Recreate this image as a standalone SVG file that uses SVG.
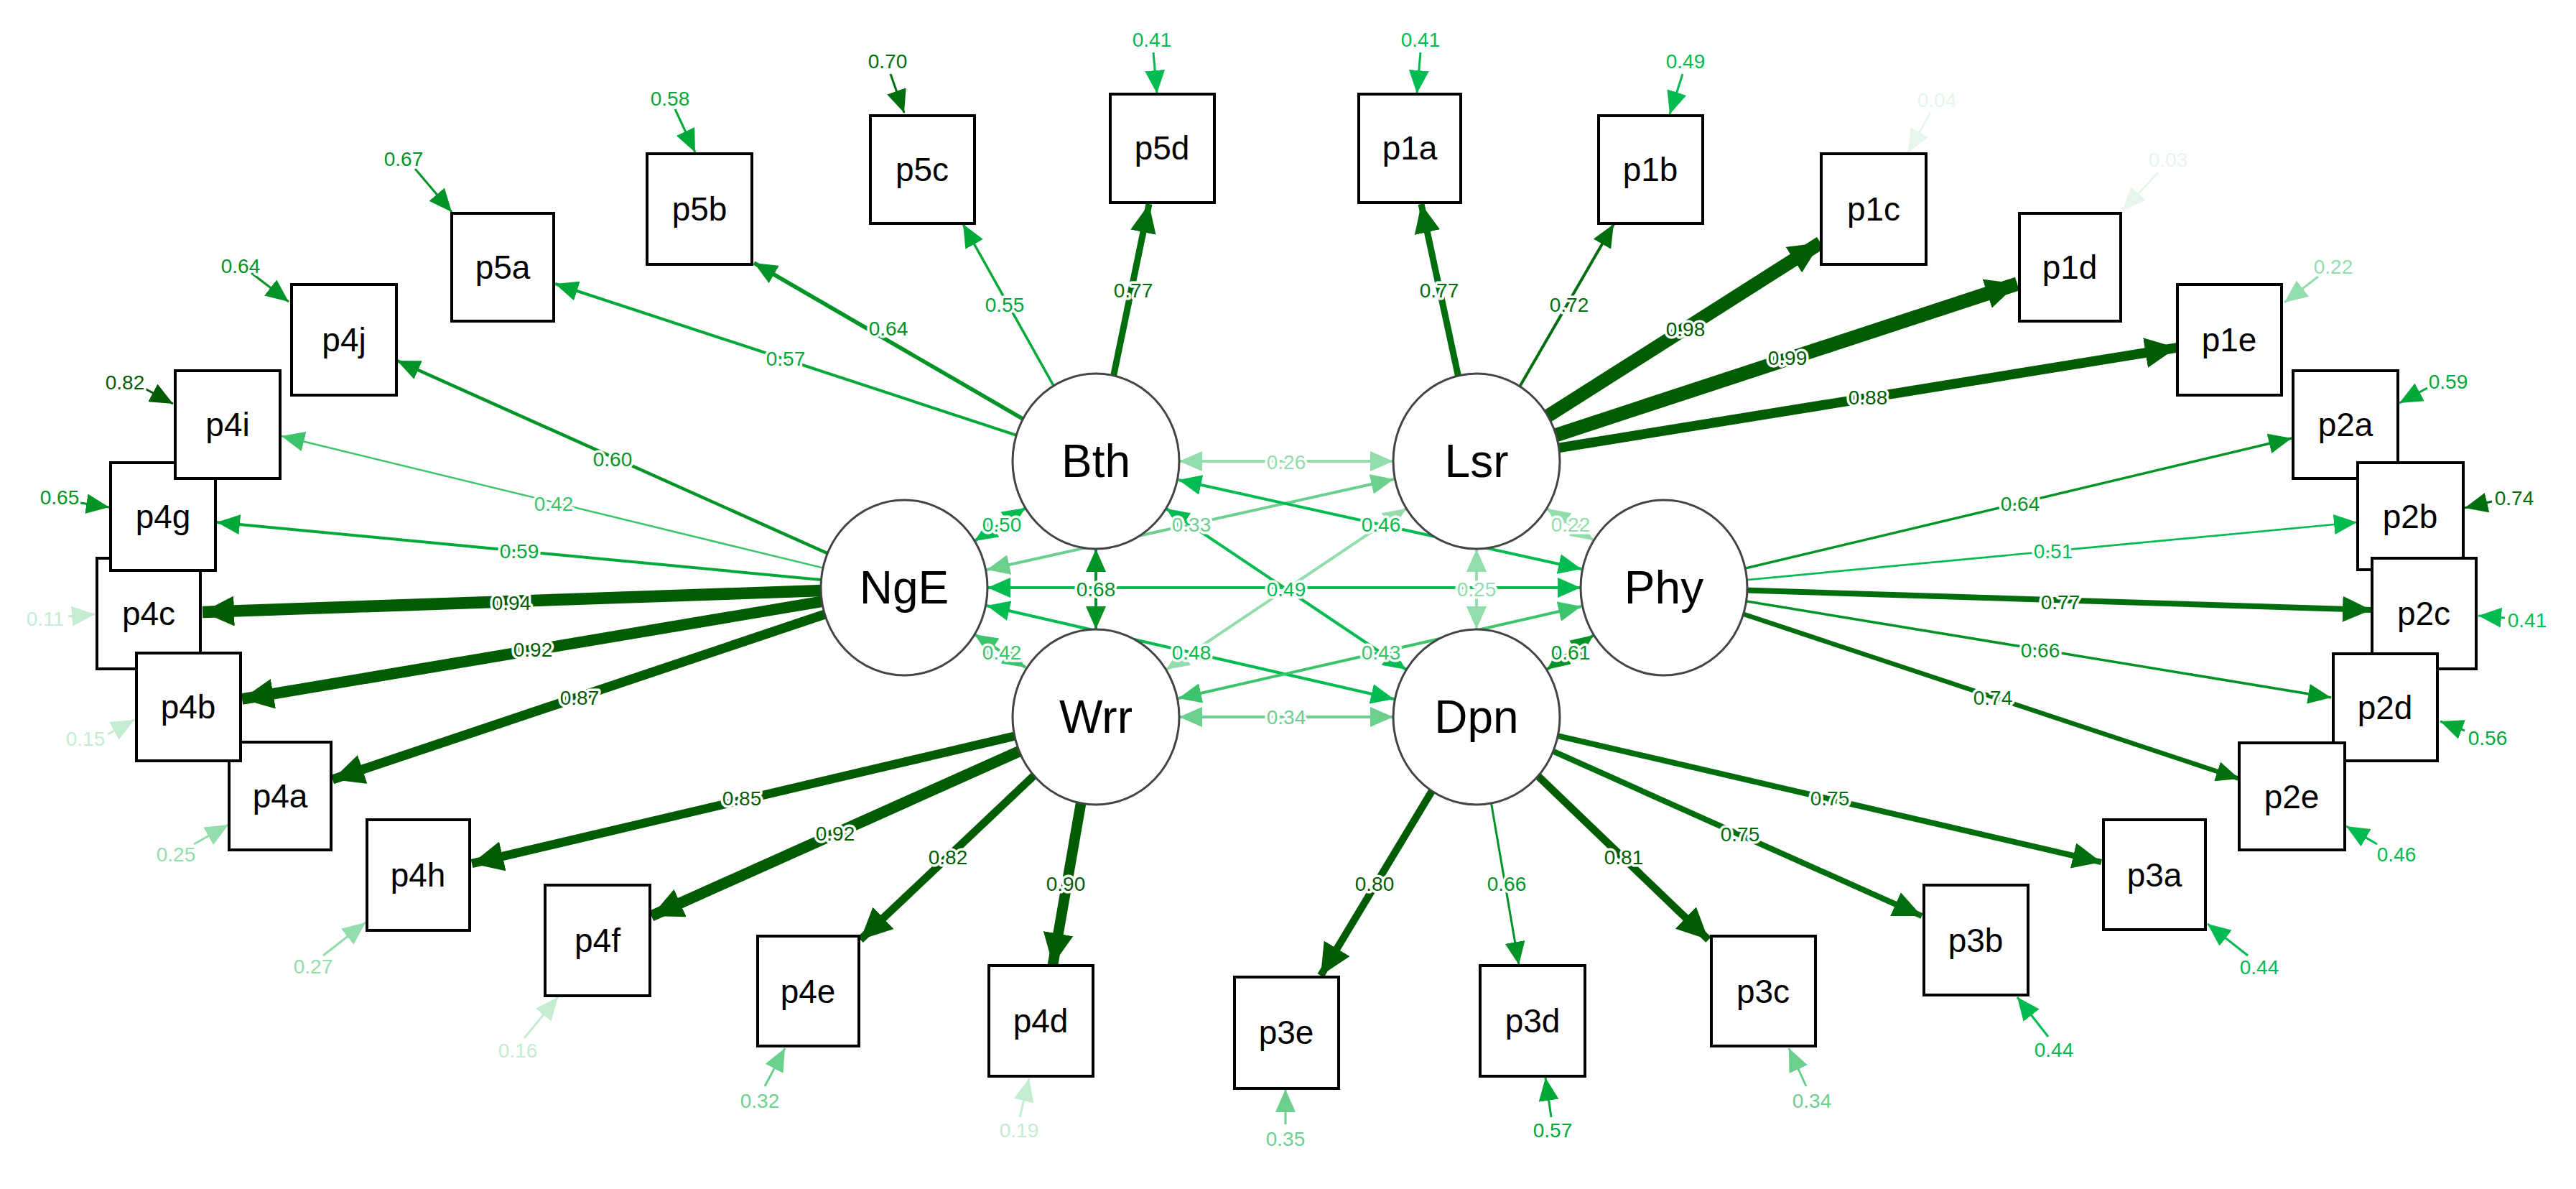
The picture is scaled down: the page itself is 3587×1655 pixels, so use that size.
<svg xmlns="http://www.w3.org/2000/svg" width="3587" height="1655" viewBox="0 0 3587 1655">
<style>
line{fill:none}
.c9{stroke:#005c00;fill:#005c00}.c8{stroke:#006e0c;fill:#006e0c}.c7{stroke:#009426;fill:#009426}.c6{stroke:#00a838;fill:#00a838}.c5{stroke:#00bb4f;fill:#00bb4f}.c4{stroke:#3cc46c;fill:#3cc46c}.c3{stroke:#6ccf8e;fill:#6ccf8e}.c2{stroke:#93dcab;fill:#93dcab}.c1{stroke:#c4ecd1;fill:#c4ecd1}.c0{stroke:#e6f6ea;fill:#e6f6ea}
text.l{font-family:"Liberation Sans",Arial,sans-serif;font-size:28px;text-anchor:middle;dominant-baseline:central;stroke:#fff;stroke-width:7px;paint-order:stroke;stroke-linejoin:round}
.box rect{fill:#fff;stroke:#000;stroke-width:4}
.lat ellipse{fill:#fff;stroke:#444;stroke-width:3}
.box text{font-family:"Liberation Sans",Arial,sans-serif;font-size:46px;text-anchor:middle;dominant-baseline:central;fill:#000}
.lat text{font-family:"Liberation Sans",Arial,sans-serif;font-size:64px;text-anchor:middle;dominant-baseline:central;fill:#000}
.cv{stroke-width:4}
.rs{stroke-width:3}
</style>
<defs>
<marker id="s9" markerUnits="userSpaceOnUse" markerWidth="34" markerHeight="28" refX="32" refY="14" orient="auto-start-reverse"><path d="M0,0L32,14L0,28z" fill="#005c00"/></marker>
<marker id="s8" markerUnits="userSpaceOnUse" markerWidth="34" markerHeight="28" refX="32" refY="14" orient="auto-start-reverse"><path d="M0,0L32,14L0,28z" fill="#006e0c"/></marker>
<marker id="s7" markerUnits="userSpaceOnUse" markerWidth="34" markerHeight="28" refX="32" refY="14" orient="auto-start-reverse"><path d="M0,0L32,14L0,28z" fill="#009426"/></marker>
<marker id="s6" markerUnits="userSpaceOnUse" markerWidth="34" markerHeight="28" refX="32" refY="14" orient="auto-start-reverse"><path d="M0,0L32,14L0,28z" fill="#00a838"/></marker>
<marker id="s5" markerUnits="userSpaceOnUse" markerWidth="34" markerHeight="28" refX="32" refY="14" orient="auto-start-reverse"><path d="M0,0L32,14L0,28z" fill="#00bb4f"/></marker>
<marker id="s4" markerUnits="userSpaceOnUse" markerWidth="34" markerHeight="28" refX="32" refY="14" orient="auto-start-reverse"><path d="M0,0L32,14L0,28z" fill="#3cc46c"/></marker>
<marker id="s3" markerUnits="userSpaceOnUse" markerWidth="34" markerHeight="28" refX="32" refY="14" orient="auto-start-reverse"><path d="M0,0L32,14L0,28z" fill="#6ccf8e"/></marker>
<marker id="s2" markerUnits="userSpaceOnUse" markerWidth="34" markerHeight="28" refX="32" refY="14" orient="auto-start-reverse"><path d="M0,0L32,14L0,28z" fill="#93dcab"/></marker>
<marker id="s1" markerUnits="userSpaceOnUse" markerWidth="34" markerHeight="28" refX="32" refY="14" orient="auto-start-reverse"><path d="M0,0L32,14L0,28z" fill="#c4ecd1"/></marker>
<marker id="s0" markerUnits="userSpaceOnUse" markerWidth="34" markerHeight="28" refX="32" refY="14" orient="auto-start-reverse"><path d="M0,0L32,14L0,28z" fill="#e6f6ea"/></marker>
<marker id="b9" markerUnits="userSpaceOnUse" markerWidth="46" markerHeight="42" refX="44" refY="21" orient="auto"><path d="M0,0L44,21L0,42z" fill="#005c00"/></marker>
<marker id="b8" markerUnits="userSpaceOnUse" markerWidth="46" markerHeight="36" refX="40" refY="18" orient="auto"><path d="M0,0L40,18L0,36z" fill="#006e0c"/></marker>
</defs>
<g id="connectors">
<!-- covariances -->
<line class="cv c2" x1="1642" y1="642" x2="1940" y2="642" marker-start="url(#s2)" marker-end="url(#s2)"/>
<line class="cv c5" x1="1357" y1="753" x2="1428" y2="707" marker-start="url(#s5)" marker-end="url(#s5)"/>
<line class="cv c3" x1="1374" y1="793" x2="1941" y2="667" marker-start="url(#s3)" marker-end="url(#s3)"/>
<line class="cv c5" x1="1641" y1="668" x2="2202" y2="792" marker-start="url(#s5)" marker-end="url(#s5)"/>
<line class="cv c2" x1="2154" y1="708" x2="2219" y2="752" marker-start="url(#s2)" marker-end="url(#s2)"/>
<line class="cv c7" x1="1526" y1="764" x2="1526" y2="876" marker-start="url(#s7)" marker-end="url(#s7)"/>
<line class="cv c5" x1="1375" y1="818" x2="2201" y2="818" marker-start="url(#s5)" marker-end="url(#s5)"/>
<line class="cv c2" x1="2056" y1="764" x2="2056" y2="876" marker-start="url(#s2)" marker-end="url(#s2)"/>
<line class="cv c4" x1="1357" y1="883" x2="1428" y2="929" marker-start="url(#s4)" marker-end="url(#s4)"/>
<line class="cv c5" x1="1374" y1="843" x2="1941" y2="973" marker-start="url(#s5)" marker-end="url(#s5)"/>
<line class="cv c4" x1="1641" y1="972" x2="2202" y2="844" marker-start="url(#s4)" marker-end="url(#s4)"/>
<line class="cv c7" x1="2154" y1="932" x2="2219" y2="884" marker-start="url(#s7)" marker-end="url(#s7)"/>
<line class="cv c3" x1="1642" y1="998" x2="1940" y2="998" marker-start="url(#s3)" marker-end="url(#s3)"/>
<line class="cv c5" x1="1624" y1="708" x2="1958" y2="932" marker-start="url(#s5)" marker-end="url(#s5)"/>
<line class="cv c2" x1="1958" y1="708" x2="1624" y2="932" marker-start="url(#s2)" marker-end="url(#s2)"/>
<!-- loadings Bth -->
<line class="c6" stroke-width="4" x1="1526" y1="642" x2="773" y2="395" marker-end="url(#s6)"/>
<line class="c7" stroke-width="5.5" x1="1526" y1="642" x2="1050" y2="366" marker-end="url(#s7)"/>
<line class="c6" stroke-width="3.5" x1="1526" y1="642" x2="1341" y2="312" marker-end="url(#s6)"/>
<line class="c8" stroke-width="9" x1="1526" y1="642" x2="1600" y2="284" marker-end="url(#b8)"/>
<!-- NgE -->
<line class="c7" stroke-width="4.5" x1="1259" y1="818" x2="553" y2="502" marker-end="url(#s7)"/>
<line class="c4" stroke-width="2.5" x1="1259" y1="818" x2="392" y2="607" marker-end="url(#s4)"/>
<line class="c6" stroke-width="4" x1="1259" y1="818" x2="302" y2="727" marker-end="url(#s6)"/>
<line class="c9" stroke-width="16.6" x1="1259" y1="818" x2="282" y2="852" marker-end="url(#b9)"/>
<line class="c9" stroke-width="15.6" x1="1259" y1="818" x2="337" y2="973" marker-end="url(#b9)"/>
<line class="c9" stroke-width="13.2" x1="1259" y1="818" x2="463" y2="1085" marker-end="url(#b9)"/>
<!-- Wrr -->
<line class="c9" stroke-width="12.3" x1="1526" y1="998" x2="657" y2="1202" marker-end="url(#b9)"/>
<line class="c9" stroke-width="15.6" x1="1526" y1="998" x2="907" y2="1275" marker-end="url(#b9)"/>
<line class="c9" stroke-width="11" x1="1526" y1="998" x2="1198" y2="1308" marker-end="url(#b9)"/>
<line class="c9" stroke-width="14.6" x1="1526" y1="998" x2="1466" y2="1343" marker-end="url(#b9)"/>
<!-- Dpn -->
<line class="c9" stroke-width="10.2" x1="2056" y1="998" x2="1839" y2="1358" marker-end="url(#b9)"/>
<line class="c7" stroke-width="3" x1="2056" y1="998" x2="2115" y2="1343" marker-end="url(#s7)"/>
<line class="c9" stroke-width="10.6" x1="2056" y1="998" x2="2379" y2="1308" marker-end="url(#b9)"/>
<line class="c8" stroke-width="8" x1="2056" y1="998" x2="2676" y2="1275" marker-end="url(#b8)"/>
<line class="c8" stroke-width="8" x1="2056" y1="998" x2="2926" y2="1200" marker-end="url(#b8)"/>
<!-- Phy -->
<line class="c7" stroke-width="3.5" x1="2317" y1="818" x2="3191" y2="610" marker-end="url(#s7)"/>
<line class="c5" stroke-width="2.7" x1="2317" y1="818" x2="3282" y2="727" marker-end="url(#s5)"/>
<line class="c8" stroke-width="8" x1="2317" y1="818" x2="3302" y2="849" marker-end="url(#b8)"/>
<line class="c7" stroke-width="3.5" x1="2317" y1="818" x2="3246" y2="971" marker-end="url(#s7)"/>
<line class="c8" stroke-width="6.5" x1="2317" y1="818" x2="3118" y2="1084" marker-end="url(#s8)"/>
<!-- Lsr -->
<line class="c8" stroke-width="9" x1="2056" y1="642" x2="1979" y2="284" marker-end="url(#b8)"/>
<line class="c8" stroke-width="4" x1="2056" y1="642" x2="2247" y2="312" marker-end="url(#s8)"/>
<line class="c9" stroke-width="18.8" x1="2056" y1="642" x2="2535" y2="338" marker-end="url(#b9)"/>
<line class="c9" stroke-width="19.4" x1="2056" y1="642" x2="2809" y2="395" marker-end="url(#b9)"/>
<line class="c9" stroke-width="13.6" x1="2056" y1="642" x2="3031" y2="484" marker-end="url(#b9)"/>
<!-- residuals -->
<line class="rs c6" x1="940" y1="152" x2="968" y2="212" marker-end="url(#s6)"/>
<line class="rs c7" x1="578" y1="235" x2="629" y2="295" marker-end="url(#s7)"/>
<line class="rs c7" x1="350" y1="380" x2="402" y2="420" marker-end="url(#s7)"/>
<line class="rs c9" x1="200" y1="540" x2="241" y2="562" marker-end="url(#s9)"/>
<line class="rs c7" x1="112" y1="700" x2="152" y2="706" marker-end="url(#s7)"/>
<line class="rs c1" x1="95" y1="858" x2="132" y2="855" marker-end="url(#s1)"/>
<line class="rs c1" x1="150" y1="1022" x2="187" y2="1002" marker-end="url(#s1)"/>
<line class="rs c2" x1="270" y1="1175" x2="318" y2="1148" marker-end="url(#s2)"/>
<line class="rs c2" x1="450" y1="1330" x2="509" y2="1284" marker-end="url(#s2)"/>
<line class="rs c1" x1="730" y1="1445" x2="777" y2="1388" marker-end="url(#s1)"/>
<line class="rs c3" x1="1065" y1="1512" x2="1093" y2="1459" marker-end="url(#s3)"/>
<line class="rs c1" x1="1420" y1="1555" x2="1433" y2="1501" marker-end="url(#s1)"/>
<line class="rs c3" x1="1790" y1="1565" x2="1790" y2="1516" marker-end="url(#s3)"/>
<line class="rs c6" x1="2160" y1="1555" x2="2152" y2="1500" marker-end="url(#s6)"/>
<line class="rs c3" x1="2515" y1="1512" x2="2491" y2="1459" marker-end="url(#s3)"/>
<line class="rs c5" x1="2852" y1="1443" x2="2809" y2="1388" marker-end="url(#s5)"/>
<line class="rs c5" x1="3130" y1="1330" x2="3074" y2="1286" marker-end="url(#s5)"/>
<line class="rs c5" x1="3310" y1="1175" x2="3267" y2="1150" marker-end="url(#s5)"/>
<line class="rs c6" x1="3432" y1="1017" x2="3398" y2="1004" marker-end="url(#s6)"/>
<line class="rs c5" x1="3488" y1="860" x2="3451" y2="857" marker-end="url(#s5)"/>
<line class="rs c8" x1="3470" y1="698" x2="3432" y2="707" marker-end="url(#s8)"/>
<line class="rs c6" x1="3380" y1="540" x2="3341" y2="561" marker-end="url(#s6)"/>
<line class="rs c2" x1="3228" y1="385" x2="3181" y2="421" marker-end="url(#s2)"/>
<line class="rs c0" x1="3005" y1="240" x2="2956" y2="293" marker-end="url(#s0)"/>
<line class="rs c0" x1="2688" y1="157" x2="2657" y2="212" marker-end="url(#s0)"/>
<line class="rs c5" x1="2343" y1="103" x2="2325" y2="159" marker-end="url(#s5)"/>
<line class="rs c5" x1="1978" y1="73" x2="1973" y2="130" marker-end="url(#s5)"/>
<line class="rs c5" x1="1606" y1="73" x2="1611" y2="130" marker-end="url(#s5)"/>
<line class="rs c8" x1="1240" y1="103" x2="1259" y2="157" marker-end="url(#s8)"/>
<!-- labels -->
<text class="l c2" x="1791" y="643">0.26</text>
<text class="l c5" x="1395" y="730">0.50</text>
<text class="l c3" x="1659" y="730">0.33</text>
<text class="l c5" x="1923" y="730">0.46</text>
<text class="l c2" x="2187" y="730">0.22</text>
<text class="l c7" x="1526" y="820">0.68</text>
<text class="l c5" x="1791" y="820">0.49</text>
<text class="l c2" x="2056" y="820">0.25</text>
<text class="l c4" x="1395" y="908">0.42</text>
<text class="l c5" x="1659" y="908">0.48</text>
<text class="l c4" x="1923" y="908">0.43</text>
<text class="l c7" x="2187" y="908">0.61</text>
<text class="l c3" x="1791" y="998">0.34</text>
<text class="l c6" x="1094" y="499">0.57</text>
<text class="l c7" x="1237" y="457">0.64</text>
<text class="l c6" x="1399" y="424">0.55</text>
<text class="l c8" x="1578" y="404">0.77</text>
<text class="l c7" x="853" y="639">0.60</text>
<text class="l c4" x="771" y="701">0.42</text>
<text class="l c6" x="723" y="767">0.59</text>
<text class="l c9" x="712" y="839">0.94</text>
<text class="l c9" x="742" y="904">0.92</text>
<text class="l c9" x="807" y="971">0.87</text>
<text class="l c9" x="1033" y="1111">0.85</text>
<text class="l c9" x="1163" y="1160">0.92</text>
<text class="l c9" x="1320" y="1193">0.82</text>
<text class="l c9" x="1484" y="1230">0.90</text>
<text class="l c9" x="1914" y="1230">0.80</text>
<text class="l c7" x="2098" y="1230">0.66</text>
<text class="l c9" x="2261" y="1193">0.81</text>
<text class="l c8" x="2423" y="1161">0.75</text>
<text class="l c8" x="2548" y="1111">0.75</text>
<text class="l c7" x="2813" y="701">0.64</text>
<text class="l c5" x="2859" y="767">0.51</text>
<text class="l c8" x="2869" y="838">0.77</text>
<text class="l c7" x="2841" y="905">0.66</text>
<text class="l c8" x="2775" y="971">0.74</text>
<text class="l c8" x="2004" y="404">0.77</text>
<text class="l c8" x="2185" y="424">0.72</text>
<text class="l c9" x="2347" y="458">0.98</text>
<text class="l c9" x="2489" y="498">0.99</text>
<text class="l c9" x="2601" y="553">0.88</text>
<text class="l c6" x="933" y="137">0.58</text>
<text class="l c7" x="562" y="221">0.67</text>
<text class="l c7" x="335" y="370">0.64</text>
<text class="l c9" x="174" y="532">0.82</text>
<text class="l c7" x="83" y="692">0.65</text>
<text class="l c1" x="63" y="861">0.11</text>
<text class="l c1" x="119" y="1028">0.15</text>
<text class="l c2" x="245" y="1189">0.25</text>
<text class="l c2" x="436" y="1345">0.27</text>
<text class="l c1" x="721" y="1462">0.16</text>
<text class="l c3" x="1058" y="1532">0.32</text>
<text class="l c1" x="1419" y="1573">0.19</text>
<text class="l c3" x="1790" y="1585">0.35</text>
<text class="l c6" x="2162" y="1573">0.57</text>
<text class="l c3" x="2523" y="1532">0.34</text>
<text class="l c5" x="2860" y="1461">0.44</text>
<text class="l c5" x="3146" y="1346">0.44</text>
<text class="l c5" x="3337" y="1189">0.46</text>
<text class="l c6" x="3464" y="1027">0.56</text>
<text class="l c5" x="3519" y="863">0.41</text>
<text class="l c8" x="3501" y="693">0.74</text>
<text class="l c6" x="3409" y="531">0.59</text>
<text class="l c2" x="3249" y="371">0.22</text>
<text class="l c0" x="3019" y="222">0.03</text>
<text class="l c0" x="2697" y="139">0.04</text>
<text class="l c5" x="2347" y="85">0.49</text>
<text class="l c5" x="1978" y="55">0.41</text>
<text class="l c5" x="1604" y="55">0.41</text>
<text class="l c8" x="1236" y="85">0.70</text>
</g>
<g id="p4c" class="box"><rect x="135" y="777" width="144" height="154"/><text x="207" y="854">p4c</text></g>
<g id="p4g" class="box"><rect x="154" y="644" width="146" height="150"/><text x="227" y="719">p4g</text></g>
<g id="p4i" class="box"><rect x="244" y="516" width="146" height="150"/><text x="317" y="591">p4i</text></g>
<g id="p4j" class="box"><rect x="406" y="396" width="146" height="154"/><text x="479" y="473">p4j</text></g>
<g id="p5a" class="box"><rect x="629" y="297" width="142" height="150"/><text x="700" y="372">p5a</text></g>
<g id="p5b" class="box"><rect x="901" y="214" width="146" height="154"/><text x="974" y="291">p5b</text></g>
<g id="p5c" class="box"><rect x="1212" y="161" width="145" height="150"/><text x="1284" y="236">p5c</text></g>
<g id="p5d" class="box"><rect x="1546" y="131" width="145" height="151"/><text x="1618" y="206">p5d</text></g>
<g id="p1a" class="box"><rect x="1892" y="131" width="142" height="151"/><text x="1963" y="206">p1a</text></g>
<g id="p1b" class="box"><rect x="2226" y="161" width="145" height="150"/><text x="2298" y="236">p1b</text></g>
<g id="p1c" class="box"><rect x="2536" y="214" width="146" height="154"/><text x="2609" y="291">p1c</text></g>
<g id="p1d" class="box"><rect x="2812" y="297" width="141" height="150"/><text x="2882" y="372">p1d</text></g>
<g id="p1e" class="box"><rect x="3032" y="396" width="145" height="154"/><text x="3104" y="473">p1e</text></g>
<g id="p2a" class="box"><rect x="3193" y="516" width="146" height="150"/><text x="3266" y="591">p2a</text></g>
<g id="p2b" class="box"><rect x="3283" y="644" width="147" height="149"/><text x="3356" y="719">p2b</text></g>
<g id="p2c" class="box"><rect x="3303" y="777" width="145" height="154"/><text x="3375" y="854">p2c</text></g>
<g id="p2d" class="box"><rect x="3249" y="910" width="145" height="149"/><text x="3321" y="985">p2d</text></g>
<g id="p2e" class="box"><rect x="3118" y="1034" width="147" height="149"/><text x="3191" y="1109">p2e</text></g>
<g id="p3a" class="box"><rect x="2929" y="1141" width="142" height="153"/><text x="3000" y="1218">p3a</text></g>
<g id="p3b" class="box"><rect x="2679" y="1232" width="145" height="153"/><text x="2751" y="1309">p3b</text></g>
<g id="p3c" class="box"><rect x="2383" y="1303" width="145" height="153"/><text x="2455" y="1380">p3c</text></g>
<g id="p3d" class="box"><rect x="2061" y="1344" width="146" height="154"/><text x="2134" y="1421">p3d</text></g>
<g id="p3e" class="box"><rect x="1719" y="1360" width="145" height="155"/><text x="1791" y="1437">p3e</text></g>
<g id="p4d" class="box"><rect x="1377" y="1344" width="145" height="154"/><text x="1449" y="1421">p4d</text></g>
<g id="p4e" class="box"><rect x="1055" y="1303" width="141" height="153"/><text x="1125" y="1380">p4e</text></g>
<g id="p4f" class="box"><rect x="759" y="1232" width="146" height="154"/><text x="832" y="1309">p4f</text></g>
<g id="p4h" class="box"><rect x="511" y="1141" width="143" height="154"/><text x="582" y="1218">p4h</text></g>
<g id="p4a" class="box"><rect x="319" y="1033" width="142" height="150"/><text x="390" y="1108">p4a</text></g>
<g id="p4b" class="box"><rect x="190" y="909" width="145" height="150"/><text x="262" y="984">p4b</text></g>
<g id="Bth" class="lat"><ellipse cx="1526" cy="642" rx="116" ry="122"/><text x="1526" y="642">Bth</text></g>
<g id="Lsr" class="lat"><ellipse cx="2056" cy="642" rx="116" ry="122"/><text x="2056" y="642">Lsr</text></g>
<g id="NgE" class="lat"><ellipse cx="1259" cy="818" rx="116" ry="122"/><text x="1259" y="818">NgE</text></g>
<g id="Phy" class="lat"><ellipse cx="2317" cy="818" rx="116" ry="122"/><text x="2317" y="818">Phy</text></g>
<g id="Wrr" class="lat"><ellipse cx="1526" cy="998" rx="116" ry="122"/><text x="1526" y="998">Wrr</text></g>
<g id="Dpn" class="lat"><ellipse cx="2056" cy="998" rx="116" ry="122"/><text x="2056" y="998">Dpn</text></g>
</svg>
